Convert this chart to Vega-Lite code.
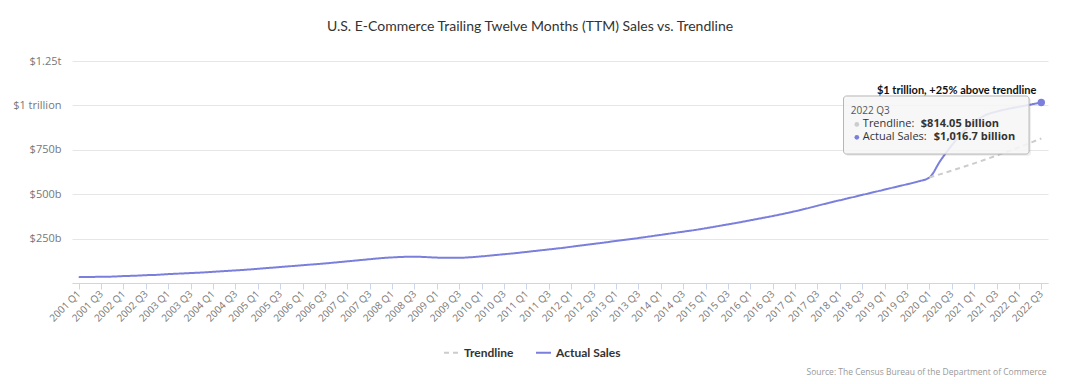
{
  "$schema": "https://vega.github.io/schema/vega-lite/v6.json",
  "width": 976,
  "height": 222,
  "autosize": "none",
  "padding": {"left": 72, "top": 61, "right": 32, "bottom": 101},
  "background": "white",
  "title": {
    "text": "U.S. E-Commerce Trailing Twelve Months (TTM) Sales vs. Trendline",
    "font": "Lato", "fontSize": 14, "fontWeight": "normal", "color": "#333333",
    "anchor": "middle", "dx": -30, "offset": 21
  },
  "datasets": {
    "sales": [
      {"q": "2001 Q1", "Actual Sales": 33}, {"q": "2001 Q2", "Actual Sales": 34}, {"q": "2001 Q3", "Actual Sales": 35}, {"q": "2001 Q4", "Actual Sales": 36},
      {"q": "2002 Q1", "Actual Sales": 39}, {"q": "2002 Q2", "Actual Sales": 41}, {"q": "2002 Q3", "Actual Sales": 44}, {"q": "2002 Q4", "Actual Sales": 46},
      {"q": "2003 Q1", "Actual Sales": 50}, {"q": "2003 Q2", "Actual Sales": 53}, {"q": "2003 Q3", "Actual Sales": 56}, {"q": "2003 Q4", "Actual Sales": 59},
      {"q": "2004 Q1", "Actual Sales": 63}, {"q": "2004 Q2", "Actual Sales": 67}, {"q": "2004 Q3", "Actual Sales": 71}, {"q": "2004 Q4", "Actual Sales": 75},
      {"q": "2005 Q1", "Actual Sales": 80}, {"q": "2005 Q2", "Actual Sales": 85}, {"q": "2005 Q3", "Actual Sales": 90}, {"q": "2005 Q4", "Actual Sales": 95},
      {"q": "2006 Q1", "Actual Sales": 100}, {"q": "2006 Q2", "Actual Sales": 105}, {"q": "2006 Q3", "Actual Sales": 110}, {"q": "2006 Q4", "Actual Sales": 116},
      {"q": "2007 Q1", "Actual Sales": 122}, {"q": "2007 Q2", "Actual Sales": 128}, {"q": "2007 Q3", "Actual Sales": 134}, {"q": "2007 Q4", "Actual Sales": 140},
      {"q": "2008 Q1", "Actual Sales": 144}, {"q": "2008 Q2", "Actual Sales": 147}, {"q": "2008 Q3", "Actual Sales": 148}, {"q": "2008 Q4", "Actual Sales": 146},
      {"q": "2009 Q1", "Actual Sales": 143}, {"q": "2009 Q2", "Actual Sales": 142}, {"q": "2009 Q3", "Actual Sales": 142}, {"q": "2009 Q4", "Actual Sales": 145},
      {"q": "2010 Q1", "Actual Sales": 150}, {"q": "2010 Q2", "Actual Sales": 156}, {"q": "2010 Q3", "Actual Sales": 162}, {"q": "2010 Q4", "Actual Sales": 168},
      {"q": "2011 Q1", "Actual Sales": 175}, {"q": "2011 Q2", "Actual Sales": 182}, {"q": "2011 Q3", "Actual Sales": 189}, {"q": "2011 Q4", "Actual Sales": 196},
      {"q": "2012 Q1", "Actual Sales": 204}, {"q": "2012 Q2", "Actual Sales": 212}, {"q": "2012 Q3", "Actual Sales": 220}, {"q": "2012 Q4", "Actual Sales": 228},
      {"q": "2013 Q1", "Actual Sales": 237}, {"q": "2013 Q2", "Actual Sales": 245}, {"q": "2013 Q3", "Actual Sales": 253}, {"q": "2013 Q4", "Actual Sales": 262},
      {"q": "2014 Q1", "Actual Sales": 271}, {"q": "2014 Q2", "Actual Sales": 280}, {"q": "2014 Q3", "Actual Sales": 289}, {"q": "2014 Q4", "Actual Sales": 298},
      {"q": "2015 Q1", "Actual Sales": 308}, {"q": "2015 Q2", "Actual Sales": 319}, {"q": "2015 Q3", "Actual Sales": 330}, {"q": "2015 Q4", "Actual Sales": 341},
      {"q": "2016 Q1", "Actual Sales": 353}, {"q": "2016 Q2", "Actual Sales": 365}, {"q": "2016 Q3", "Actual Sales": 377}, {"q": "2016 Q4", "Actual Sales": 390},
      {"q": "2017 Q1", "Actual Sales": 404}, {"q": "2017 Q2", "Actual Sales": 419}, {"q": "2017 Q3", "Actual Sales": 435}, {"q": "2017 Q4", "Actual Sales": 451},
      {"q": "2018 Q1", "Actual Sales": 466}, {"q": "2018 Q2", "Actual Sales": 481}, {"q": "2018 Q3", "Actual Sales": 496}, {"q": "2018 Q4", "Actual Sales": 511},
      {"q": "2019 Q1", "Actual Sales": 526}, {"q": "2019 Q2", "Actual Sales": 541}, {"q": "2019 Q3", "Actual Sales": 556}, {"q": "2019 Q4", "Actual Sales": 572},
      {"q": "2020 Q1", "Actual Sales": 594, "Trendline": 594}, {"q": "2020 Q2", "Actual Sales": 690, "Trendline": 613}, {"q": "2020 Q3", "Actual Sales": 775, "Trendline": 632.6}, {"q": "2020 Q4", "Actual Sales": 850, "Trendline": 652.8},
      {"q": "2021 Q1", "Actual Sales": 905, "Trendline": 673.7}, {"q": "2021 Q2", "Actual Sales": 945, "Trendline": 695.2}, {"q": "2021 Q3", "Actual Sales": 965, "Trendline": 717.5}, {"q": "2021 Q4", "Actual Sales": 980, "Trendline": 740.4},
      {"q": "2022 Q1", "Actual Sales": 992, "Trendline": 764.1}, {"q": "2022 Q2", "Actual Sales": 1004, "Trendline": 788.5}, {"q": "2022 Q3", "Actual Sales": 1016.7, "Trendline": 814.05}
    ],
    "endpoint": [{"q": "2022 Q3", "value": 1016.7, "t": "$1 trillion, +25% above trendline"}],
    "tipbox": [{"q": "2018 Q1", "q2": "2022 Q2", "value": 1053, "value2": 726}],
    "tipdate": [{"q": "2018 Q1", "value": 966, "t": "2022 Q3"}],
    "tiplabels": [{"q": "2018 Q1", "value": 893, "t": "Trendline:"}, {"q": "2018 Q1", "value": 820, "t": "Actual Sales:"}],
    "tiptrend": [{"q": "2018 Q1", "value": 893, "t": "$814.05 billion"}],
    "tipactual": [{"q": "2018 Q1", "value": 820, "t": "$1,016.7 billion"}]
  },
  "layer": [
    {
      "data": {"name": "sales"},
      "transform": [
        {"fold": ["Trendline", "Actual Sales"], "as": ["series", "value"]},
        {"filter": {"field": "value", "valid": true}}
      ],
      "mark": {"type": "line", "interpolate": "monotone", "strokeWidth": 2},
      "encoding": {
        "x": {
          "field": "q", "type": "ordinal",
          "scale": {
            "type": "point", "padding": 0.6,
            "domain": ["2001 Q1","2001 Q2","2001 Q3","2001 Q4","2002 Q1","2002 Q2","2002 Q3","2002 Q4","2003 Q1","2003 Q2","2003 Q3","2003 Q4","2004 Q1","2004 Q2","2004 Q3","2004 Q4","2005 Q1","2005 Q2","2005 Q3","2005 Q4","2006 Q1","2006 Q2","2006 Q3","2006 Q4","2007 Q1","2007 Q2","2007 Q3","2007 Q4","2008 Q1","2008 Q2","2008 Q3","2008 Q4","2009 Q1","2009 Q2","2009 Q3","2009 Q4","2010 Q1","2010 Q2","2010 Q3","2010 Q4","2011 Q1","2011 Q2","2011 Q3","2011 Q4","2012 Q1","2012 Q2","2012 Q3","2012 Q4","2013 Q1","2013 Q2","2013 Q3","2013 Q4","2014 Q1","2014 Q2","2014 Q3","2014 Q4","2015 Q1","2015 Q2","2015 Q3","2015 Q4","2016 Q1","2016 Q2","2016 Q3","2016 Q4","2017 Q1","2017 Q2","2017 Q3","2017 Q4","2018 Q1","2018 Q2","2018 Q3","2018 Q4","2019 Q1","2019 Q2","2019 Q3","2019 Q4","2020 Q1","2020 Q2","2020 Q3","2020 Q4","2021 Q1","2021 Q2","2021 Q3","2021 Q4","2022 Q1","2022 Q2","2022 Q3"]
          },
          "axis": {
            "values": ["2001 Q1","2001 Q3","2002 Q1","2002 Q3","2003 Q1","2003 Q3","2004 Q1","2004 Q3","2005 Q1","2005 Q3","2006 Q1","2006 Q3","2007 Q1","2007 Q3","2008 Q1","2008 Q3","2009 Q1","2009 Q3","2010 Q1","2010 Q3","2011 Q1","2011 Q3","2012 Q1","2012 Q3","2013 Q1","2013 Q3","2014 Q1","2014 Q3","2015 Q1","2015 Q3","2016 Q1","2016 Q3","2017 Q1","2017 Q3","2018 Q1","2018 Q3","2019 Q1","2019 Q3","2020 Q1","2020 Q3","2021 Q1","2021 Q3","2022 Q1","2022 Q3"],
            "labelAngle": -45, "labelAlign": "right", "labelBaseline": "middle",
            "labelFont": "Open Sans", "labelFontSize": 10, "labelColor": "#777777",
            "labelPadding": 3, "labelOverlap": false,
            "tickColor": "#ccd6eb", "tickSize": 6, "domainColor": "#ccd6eb", "grid": false,
            "title": "Source: The Census Bureau of the Department of Commerce",
            "titleFont": "Open Sans", "titleFontSize": 8.5, "titleFontWeight": "normal", "titleColor": "#999999",
            "titleAnchor": "end", "titleAlign": "right", "titleBaseline": "alphabetic",
            "titleX": 974, "titleY": 91
          }
        },
        "y": {
          "field": "value", "type": "quantitative",
          "scale": {"domain": [0, 1250], "nice": false},
          "axis": {
            "values": [0, 250, 500, 750, 1000, 1250],
            "labelExpr": "datum.value == 1250 ? '$1.25t' : datum.value == 1000 ? '$1 trillion' : datum.value == 0 ? '' : '$' + datum.value + 'b'",
            "title": null, "domain": false, "ticks": false, "labelPadding": 11,
            "gridColor": "#e6e6e6", "labelColor": "#777777", "labelFontSize": 11, "labelFont": "Open Sans"
          }
        },
        "color": {
          "field": "series", "type": "nominal",
          "scale": {"domain": ["Trendline", "Actual Sales"], "range": ["#cccccc", "#7b7fdc"]},
          "legend": {
            "title": null, "orient": "none", "legendX": 371, "legendY": 283, "direction": "horizontal",
            "symbolType": "stroke", "symbolSize": 225, "symbolStrokeWidth": 2,
            "labelFont": "Lato", "labelFontSize": 12, "labelFontWeight": "bold", "labelColor": "#333333",
            "columnPadding": 18, "labelOffset": 4
          }
        },
        "strokeDash": {
          "field": "series", "type": "nominal",
          "scale": {"domain": ["Trendline", "Actual Sales"], "range": [[5, 4], [1, 0]]},
          "legend": {
            "title": null, "orient": "none", "legendX": 371, "legendY": 283, "direction": "horizontal",
            "symbolType": "stroke", "symbolSize": 225, "symbolStrokeWidth": 2,
            "labelFont": "Lato", "labelFontSize": 12, "labelFontWeight": "bold", "labelColor": "#333333",
            "columnPadding": 18, "labelOffset": 4
          }
        }
      }
    },
    {
      "data": {"name": "endpoint"},
      "mark": {"type": "point", "filled": true, "size": 55, "color": "#7b7fdc", "opacity": 1},
      "encoding": {
        "x": {"field": "q", "type": "ordinal"},
        "y": {"field": "value", "type": "quantitative"}
      }
    },
    {
      "data": {"name": "tipbox"},
      "mark": {"type": "rect", "fill": "#000000", "fillOpacity": 0.06, "cornerRadius": 3, "xOffset": 5.5, "x2Offset": 1, "yOffset": 2, "y2Offset": 2},
      "encoding": {
        "x": {"field": "q", "type": "ordinal"},
        "x2": {"field": "q2"},
        "y": {"field": "value", "type": "quantitative"},
        "y2": {"field": "value2"}
      }
    },
    {
      "data": {"name": "tipbox"},
      "mark": {"type": "rect", "fill": "#f7f7f7", "fillOpacity": 0.88, "stroke": "#b5b5b5", "strokeWidth": 1, "cornerRadius": 3, "xOffset": 3.7, "x2Offset": -1},
      "encoding": {
        "x": {"field": "q", "type": "ordinal"},
        "x2": {"field": "q2"},
        "y": {"field": "value", "type": "quantitative"},
        "y2": {"field": "value2"}
      }
    },
    {
      "data": {"name": "tipdate"},
      "mark": {"type": "text", "align": "left", "baseline": "middle", "dx": 11, "font": "Open Sans", "fontSize": 10, "color": "#555555"},
      "encoding": {
        "x": {"field": "q", "type": "ordinal"},
        "y": {"field": "value", "type": "quantitative"},
        "text": {"field": "t"}
      }
    },
    {
      "data": {"name": "tiplabels"},
      "mark": {"type": "text", "align": "left", "baseline": "middle", "dx": 23, "font": "Open Sans", "fontSize": 11, "color": "#333333"},
      "encoding": {
        "x": {"field": "q", "type": "ordinal"},
        "y": {"field": "value", "type": "quantitative"},
        "text": {"field": "t"}
      }
    },
    {
      "data": {"name": "tiptrend"},
      "mark": {"type": "text", "align": "left", "baseline": "middle", "dx": 81, "font": "Open Sans", "fontSize": 11, "fontWeight": "bold", "color": "#333333"},
      "encoding": {
        "x": {"field": "q", "type": "ordinal"},
        "y": {"field": "value", "type": "quantitative"},
        "text": {"field": "t"}
      }
    },
    {
      "data": {"name": "tipactual"},
      "mark": {"type": "text", "align": "left", "baseline": "middle", "dx": 94, "font": "Open Sans", "fontSize": 11, "fontWeight": "bold", "color": "#333333"},
      "encoding": {
        "x": {"field": "q", "type": "ordinal"},
        "y": {"field": "value", "type": "quantitative"},
        "text": {"field": "t"}
      }
    },
    {
      "data": {"name": "tiptrend"},
      "mark": {"type": "point", "filled": true, "size": 22, "color": "#cccccc", "opacity": 1, "xOffset": 17},
      "encoding": {
        "x": {"field": "q", "type": "ordinal"},
        "y": {"field": "value", "type": "quantitative"}
      }
    },
    {
      "data": {"name": "tipactual"},
      "mark": {"type": "point", "filled": true, "size": 22, "color": "#7b7fdc", "opacity": 1, "xOffset": 17},
      "encoding": {
        "x": {"field": "q", "type": "ordinal"},
        "y": {"field": "value", "type": "quantitative"}
      }
    },
    {
      "data": {"name": "endpoint"},
      "mark": {"type": "text", "align": "right", "baseline": "middle", "dx": -5, "dy": -11, "font": "Lato", "fontSize": 11, "fontWeight": "bold", "color": "#111111"},
      "encoding": {
        "x": {"field": "q", "type": "ordinal"},
        "y": {"field": "value", "type": "quantitative"},
        "text": {"field": "t"}
      }
    }
  ],
  "config": {"view": {"stroke": null}}
}
